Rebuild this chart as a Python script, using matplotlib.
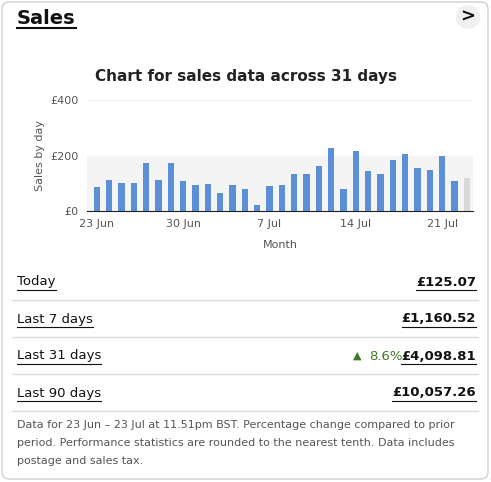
import matplotlib
matplotlib.use("Agg")
import matplotlib.pyplot as plt
from matplotlib.patches import FancyBboxPatch, Circle

days = list(range(31))
sales = [86,111,100,100,173,111,173,107,93,96,64,93,78,20,89,93,133,133,161,227,78,216,143,133,183,205,154,147,198,107,118]
tick_pos = [0,7,14,21,28]
tick_labels = ["23 Jun","30 Jun","7 Jul","14 Jul","21 Jul"]
rows = ["Today","Last 7 days","Last 31 days","Last 90 days"]
row_values = ["£125.07","£1,160.52","£4,098.81","£10,057.26"]

W, H = 491, 482
fig = plt.figure(figsize=(W/100, H/100), dpi=100)
fig.patch.set_facecolor("white")
def fx(x): return x/W
def fy(y): return 1 - y/H

card = FancyBboxPatch((fx(2), fy(479)), fx(486), 477/H, boxstyle="round,pad=0,rounding_size=0.015",
                      transform=fig.transFigure, fc="white", ec="#d0d0d0", lw=1, zorder=-10)
fig.patches.append(card)

fig.patches.append(Circle((fx(468), fy(17)), 12/H, transform=fig.transFigure, fc="#f0f0f0", ec="none"))
fig.text(fx(468), fy(17), ">", fontsize=13, fontweight="bold", ha="center", va="center", color="#111")

fig.text(fx(246), fy(77), "Chart for sales data across 31 days", fontsize=11, fontweight="bold", ha="center", va="center", color="#222")

ax = fig.add_axes([fx(87), fy(211), fx(473-87), (211-100)/H], zorder=5)
colors = ["#5b8fd6"]*30 + ["#d9d9d9"]
ax.axhspan(0, 200, color="#f4f4f4", zorder=0)
ax.axhline(400, color="#eeeeee", lw=1, zorder=0)
ax.bar(days, sales, width=0.5, color=colors, zorder=2)
ax.set_ylim(0, 400)
ax.set_xlim(-0.8, 30.5)
ax.set_yticks([0,200,400], ["£0","£200","£400"])
ax.set_xticks(tick_pos, tick_labels)
ax.tick_params(length=0, labelsize=8, colors="#555", pad=6)
for s in ["top","right","left"]:
    ax.spines[s].set_visible(False)
ax.spines["bottom"].set_color("#222")
ax.set_facecolor("none")
ax.set_xlabel("Month", fontsize=8, color="#555", labelpad=8)
ax.set_ylabel("Sales by day", fontsize=8, color="#555", labelpad=4)

texts = []
texts.append((fig.text(fx(17), fy(18), "Sales", fontsize=14, fontweight="bold", va="center", color="#111"), 10, 1.5))
ys = [282, 319, 356, 393]
for (lab, val, y) in zip(rows, row_values, ys):
    texts.append((fig.text(fx(17), fy(y), lab, fontsize=9.5, va="center", color="#111"), 8, 0.8))
    texts.append((fig.text(fx(476), fy(y), val, fontsize=9.5, fontweight="bold", va="center", ha="right", color="#111"), 8, 0.8))
for y in [300, 337, 374, 411]:
    fig.lines.append(plt.Line2D([fx(12), fx(478)], [fy(y), fy(y)], transform=fig.transFigure, color="#dddddd", lw=1))
fig.text(fx(361), fy(356), "▲", fontsize=8, color="#3d7a27", ha="right", va="center")
fig.text(fx(403), fy(356), "8.6%", fontsize=9.5, color="#3d7a27", ha="right", va="center")

fig.canvas.draw()
r = fig.canvas.get_renderer()
for t, off, lw in texts:
    bb = t.get_window_extent(r)
    ymid = (bb.y0 + bb.y1) / 2
    yl = (ymid - off) / H
    fig.lines.append(plt.Line2D([bb.x0 / W, bb.x1 / W], [yl, yl], transform=fig.transFigure, color="#111", lw=lw))

foot = ["Data for 23 Jun – 23 Jul at 11.51pm BST. Percentage change compared to prior",
        "period. Performance statistics are rounded to the nearest tenth. Data includes",
        "postage and sales tax."]
for i, l in enumerate(foot):
    fig.text(fx(17), fy(425+18*i), l, fontsize=8, color="#555", va="center")

fig.savefig("out.png", dpi=100)
